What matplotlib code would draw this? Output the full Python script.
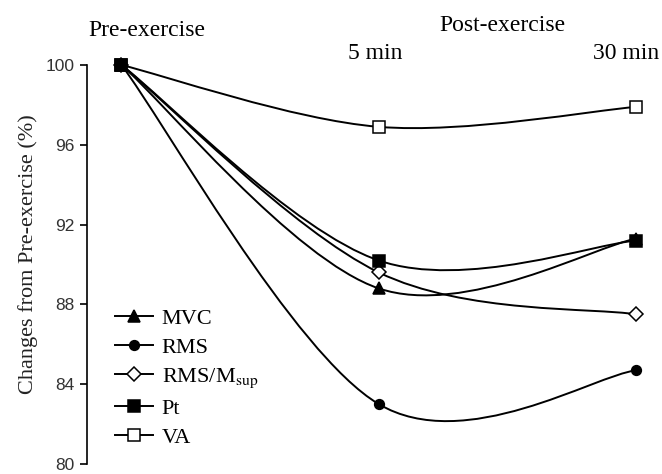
import numpy as np
import matplotlib
matplotlib.use("Agg")
import matplotlib.pyplot as plt
from matplotlib.path import Path
from matplotlib.patches import PathPatch
from matplotlib.lines import Line2D

plt.rcParams['font.family'] = 'Liberation Serif'
plt.rcParams['mathtext.fontset'] = 'stix'

# time points: pre-exercise, 5 min post, 30 min post
times = [0, 1, 2]
mvc = [100.0, 88.8, 91.3]
rms = [100.0, 83.0, 84.7]
rms_msup = [100.0, 89.6, 87.5]
pt = [100.0, 90.2, 91.2]
va = [100.0, 96.9, 97.9]

labels = ["MVC", "RMS", r"RMS/M$_{\rm sup}$", "Pt", "VA"]
series = [mvc, rms, rms_msup, pt, va]
markers = ["^", "o", "D", "s", "s"]
msizes = [8.5, 7, 7, 9, 8]
faces = ["k", "k", "white", "k", "white"]
zorders = [3, 3, 3, 5, 4]


def smooth_path(x, y):
    # Excel-like smoothed line: cubic Bezier through the points (Catmull-Rom tangents)
    pts = np.column_stack([x, y]).astype(float)
    n = len(pts)
    verts = [pts[0]]
    codes = [Path.MOVETO]
    for i in range(n - 1):
        p_prev = pts[i - 1] if i > 0 else pts[i]
        p_next = pts[i + 2] if i + 2 < n else pts[i + 1]
        c1 = pts[i] + (pts[i + 1] - p_prev) / 6.0
        c2 = pts[i + 1] - (p_next - pts[i]) / 6.0
        verts += [c1, c2, pts[i + 1]]
        codes += [Path.CURVE4] * 3
    return Path(verts, codes)


fig = plt.figure(figsize=(6.62, 4.74), dpi=100)
ax = fig.add_axes([86.7 / 662, 10 / 474, 1 - 86.7 / 662, (464 - 65) / 474])

handles = []
for vals, lab, m, ms, fc, z in zip(series, labels, markers, msizes, faces, zorders):
    ax.add_patch(PathPatch(smooth_path(times, vals), facecolor="none",
                           edgecolor="k", lw=1.4, zorder=2))
    ax.plot(times, vals, ls="none", marker=m, ms=ms, mfc=fc, mec="k",
            mew=1.1, zorder=z, clip_on=False)
    handles.append(Line2D([], [], color="k", lw=1.4, marker=m, ms=ms,
                          mfc=fc, mec="k", mew=1.1, label=lab))

ax.set_xlim(-0.135, 2.10)
ax.set_ylim(80, 100)
ax.set_yticks(np.arange(80, 101, 4))
ax.set_xticks([])
for s in ["top", "right", "bottom"]:
    ax.spines[s].set_visible(False)
ax.spines["left"].set_linewidth(1.2)
ax.tick_params(axis="y", direction="out", length=5, width=1.2, pad=4,
               labelsize=12.5)
for t in ax.get_yticklabels():
    t.set_fontfamily("Liberation Sans")
    t.set_color("#333333")

fig.text(28 / 662, 1 - 254 / 474, "Changes from Pre-exercise (%)",
         rotation=90, ha="center", va="center", fontsize=16, color="#222222")
fig.text(147 / 662, 1 - 36 / 474, "Pre-exercise", ha="center",
         va="baseline", fontsize=17)
fig.text(502 / 662, 1 - 31 / 474, "Post-exercise", ha="center",
         va="baseline", fontsize=17)
fig.text(375 / 662, 1 - 59 / 474, "5 min", ha="center",
         va="baseline", fontsize=17)
fig.text(626 / 662, 1 - 59 / 474, "30 min", ha="center",
         va="baseline", fontsize=17)

ax.legend(handles=handles, loc="upper left", frameon=False, fontsize=16,
          bbox_to_anchor=(115 / 662, 1 - 308 / 474),
          bbox_transform=fig.transFigure, borderpad=0, borderaxespad=0,
          handlelength=1.7, handletextpad=0.4, labelspacing=0.38)

fig.savefig("out.png", dpi=100)
